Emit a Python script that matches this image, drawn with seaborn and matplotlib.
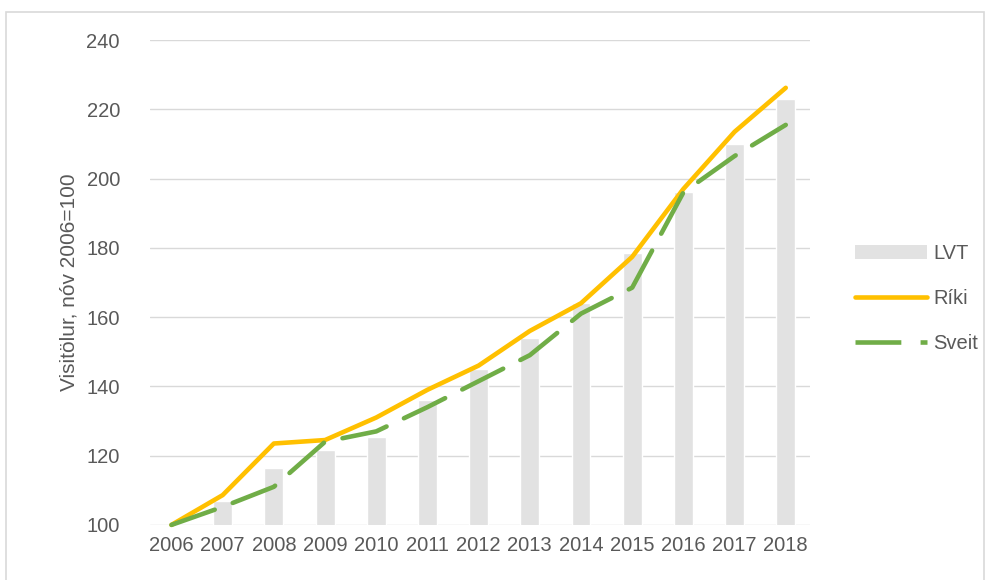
import numpy as np
import pandas as pd
import matplotlib
matplotlib.use("Agg")
import matplotlib.pyplot as plt
import matplotlib.patches as mpatches
from matplotlib.lines import Line2D
import seaborn as sns

# Gögn lesin af myndinni (vísitala, nóv 2006=100)
years = ["2006", "2007", "2008", "2009", "2010", "2011", "2012",
         "2013", "2014", "2015", "2016", "2017", "2018"]
lvt = [100, 107, 116.5, 121.5, 125.5, 136, 145, 154, 164, 178.5, 196, 210, 223]
riki = [100, 108.6, 123.5, 124.5, 131, 139, 146, 156, 164, 177.4, 197, 213.5, 226.2]
sveit = [100, 105.2, 111, 124, 127, 134, 141.5, 149, 161, 168.5, 196, 206.5, 215.5]

grey_txt = "#595959"
bar_col = "#E2E2E2"
riki_col = "#FFC000"
sveit_col = "#70AD47"
dash = [10, 4.2]

sns.set_style("white")
plt.rcParams["font.family"] = ["Liberation Sans", "DejaVu Sans"]

df = pd.DataFrame({"ar": years, "LVT": lvt, "Ríki": riki, "Sveit": sveit})
df["pos"] = np.arange(len(df))

fig = plt.figure(figsize=(9.9, 5.8), dpi=100)
ax = fig.add_axes([0.152, 0.095, 0.666, 0.836])

sns.barplot(data=df, x="ar", y="LVT", color=bar_col, width=0.37,
            saturation=1, ax=ax, zorder=2)
sns.lineplot(data=df, x="pos", y="Ríki", color=riki_col, linewidth=3.3,
             ax=ax, zorder=3, clip_on=False)
sns.lineplot(data=df, x="pos", y="Sveit", color=sveit_col, linewidth=3.3,
             ax=ax, zorder=4, clip_on=False, dashes=False)
ax.lines[-2].set_solid_joinstyle("round")
ax.lines[-1].set_dashes(dash)
ax.lines[-1].set_dash_capstyle("round")
ax.lines[-1].set_dash_joinstyle("round")

ax.set_ylim(100, 240)
ax.set_yticks(np.arange(100, 241, 20))
ax.set_xlim(-0.41, 12.47)
ax.yaxis.grid(True, color="#D9D9D9", linewidth=1)
ax.set_axisbelow(True)
sns.despine(ax=ax, left=True, bottom=True)
ax.tick_params(axis="both", length=0, labelsize=14.5, colors=grey_txt)
ax.tick_params(axis="y", pad=22)
ax.tick_params(axis="x", pad=8)
ax.set_xlabel("")
ax.set_ylabel("Visitölur, nóv 2006=100", fontsize=15, color=grey_txt, labelpad=6)

handles = [
    mpatches.Patch(facecolor=bar_col, edgecolor="none"),
    Line2D([], [], color=riki_col, linewidth=3.3),
    Line2D([], [], color=sveit_col, linewidth=3.3, dashes=dash),
]
fig.legend(handles, ["LVT", "Ríki", "Sveit"], loc="center left",
           bbox_to_anchor=(0.845, 0.485), frameon=False, fontsize=14.5,
           labelcolor=grey_txt, handlelength=3.6, handletextpad=0.3,
           labelspacing=1.3)

# rammi utan um myndina
fig.add_artist(mpatches.Rectangle((0.006, -0.01), 0.988, 0.99,
                                  transform=fig.transFigure, fill=False,
                                  edgecolor="#D9D9D9", linewidth=1.2))

fig.savefig("out.png", dpi=100)
